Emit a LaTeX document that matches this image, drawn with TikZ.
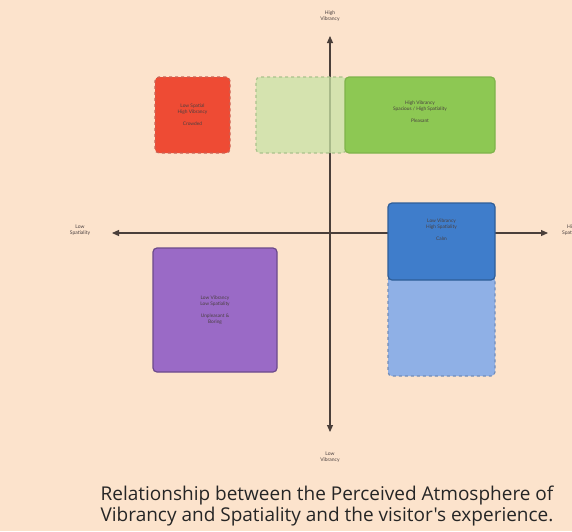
\documentclass[tikz,border=0pt]{standalone}
\usepackage{fontspec}
\setmainfont{Lato}
\newfontfamily\capfont{Open Sans}
\usetikzlibrary{arrows.meta}
\definecolor{bg}{HTML}{FCE3CC}
\definecolor{axis}{HTML}{4A3F3A}
\definecolor{redf}{HTML}{EE4B34}
\definecolor{lgreen}{HTML}{C9E4A6}
\definecolor{green}{HTML}{8DC853}
\definecolor{blue}{HTML}{3F7DCB}
\definecolor{lblue}{HTML}{8FB0E6}
\definecolor{purple}{HTML}{9A6AC6}
\definecolor{txt}{HTML}{4A4040}
\begin{document}
\begin{tikzpicture}[x=1pt,y=-1pt,
  ax/.style={draw=axis,line width=1.1pt,-{Triangle[length=7pt,width=6pt]}},
  axlab/.style={font=\fontsize{5}{6}\selectfont,text=txt,align=center,inner sep=0pt},
  boxlab/.style={font=\fontsize{4.8}{5.8}\selectfont,text=txt,align=center,inner sep=0pt},
  box/.style={rounded corners=4pt,line width=1.2pt}]
\useasboundingbox[fill=bg] (0,0) rectangle (572,531);
% axes
\coordinate (c) at (330,233);
\coordinate (top) at (330,36);
\coordinate (bot) at (330,432);
\coordinate (lft) at (112,233);
\coordinate (rgt) at (548,233);
\draw[ax] (c) -- (top);
\draw[ax] (c) -- (bot);
\draw[ax] (c) -- (lft);
\draw[ax] (c) -- (rgt);
% boxes
\node[box,draw=redf!80!black!80,dashed,fill=redf,minimum width=75pt,minimum height=76pt] (red) at (192.5,115) {};
\node[box,draw=lgreen!85!black,dashed,fill=lgreen,fill opacity=0.75,minimum width=90pt,minimum height=76pt] (lg) at (301,115) {};
\node[box,draw=green!90!black,fill=green,minimum width=150pt,minimum height=76pt] (gr) at (420,115) {};
\node[box,draw=lblue!80!black,dashed,fill=lblue,minimum width=107pt,minimum height=100pt] (lb) at (441.5,326) {};
\node[box,draw=blue!75!black,fill=blue,minimum width=107pt,minimum height=77pt] (bl) at (441.5,241.5) {};
\node[box,draw=purple!70!black,fill=purple,minimum width=124pt,minimum height=124pt] (pu) at (215,310) {};
% box labels
\node[boxlab] (redt) at (red) {Low Spatial\\High Vibrancy\\[6pt]Crowded};
\node[boxlab] (grt) at (420,112) {High Vibrancy\\Spacious / High Spatiality\\[6pt]Pleasant};
\node[boxlab] (blt) at (441.5,230) {Low Vibrancy\\High Spatiality\\[6pt]Calm};
\node[boxlab] (put) at (pu) {Low Vibrancy\\Low Spatiality\\[6pt]Unpleasant \&\\Boring};
% axis labels
\node[axlab] (hv) at (330,16) {High\\Vibrancy};
\node[axlab] (lv) at (330,457) {Low\\Vibrancy};
\node[axlab] (ls) at (80,230) {Low\\Spatiality};
\node[axlab,anchor=west] (hs) at (562,230) {High\\Spatiality};
% caption
\node[font=\capfont\fontsize{19}{21.5}\selectfont,text=black!85,align=center] (cap) at (327,506) {Relationship between the Perceived Atmosphere of\\Vibrancy and Spatiality and the visitor's experience.};
\end{tikzpicture}
\end{document}
